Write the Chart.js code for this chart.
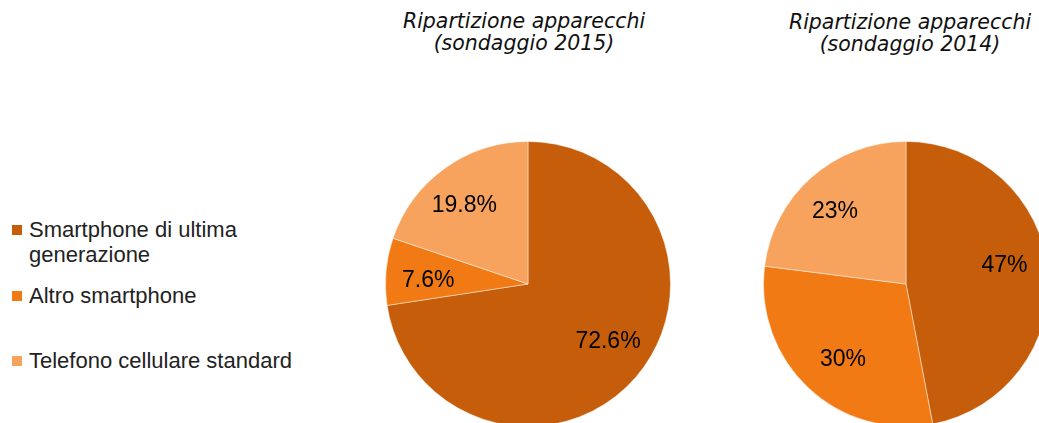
<!DOCTYPE html>
<html lang="it">
<head>
<meta charset="utf-8">
<title>Ripartizione apparecchi</title>
<script src="https://cdn.jsdelivr.net/npm/chart.js@4/dist/chart.umd.min.js"></script>
<style>
    html, body {
        margin: 0;
        padding: 0;
        width: 1039px;
        height: 423px;
        overflow: hidden;
        background: #fff;
    }
    .pie-title {
        position: absolute;
        width: 320px;
        text-align: center;
        font-family: 'DejaVu Sans', sans-serif;
        font-style: italic;
        font-size: 20.5px;
        line-height: 22px;
        color: #111;
    }
    .pie-canvas {
        position: absolute;
    }
    #legend {
        position: absolute;
        left: 0;
        top: 0;
        font-family: 'Liberation Sans', Arial, sans-serif;
        font-size: 22px;
        color: #222;
    }
    .legend-item {
        position: absolute;
        left: 29px;
        white-space: nowrap;
        line-height: 25px;
    }
    .legend-box {
        position: absolute;
        left: -17px;
        top: 8px;
        width: 10px;
        height: 10px;
    }
</style>
</head>
<body>
<div class="pie-title" style="left: 364px; top: 10px;">Ripartizione apparecchi<br>(sondaggio 2015)</div>
<div class="pie-title" style="left: 750px; top: 11px;">Ripartizione apparecchi<br>(sondaggio 2014)</div>

<div id="legend"></div>

<canvas id="pie2015" class="pie-canvas" width="286" height="286" style="left: 385px; top: 141px;"></canvas>
<canvas id="pie2014" class="pie-canvas" width="286" height="286" style="left: 763px; top: 141px;"></canvas>

<script>
    // --- Data ---
    const categories = ['Smartphone di ultima generazione', 'Altro smartphone', 'Telefono cellulare standard'];
    const legendLines = [['Smartphone di ultima', 'generazione'], ['Altro smartphone'], ['Telefono cellulare standard']];
    const values2015 = [72.6, 7.6, 19.8];
    const values2014 = [47, 30, 23];
    const sliceColors = ['#C55D0A', '#F27A14', '#F7A35D'];

    // Legend rows (top of each block, px)
    const legendTops = [217, 283, 348];

    const legendEl = document.getElementById('legend');
    legendLines.forEach((lines, i) => {
        const item = document.createElement('div');
        item.className = 'legend-item';
        item.style.top = legendTops[i] + 'px';
        item.innerHTML = `<span class="legend-box" style="background: ${sliceColors[i]};"></span>` + lines.join('<br>');
        legendEl.appendChild(item);
    });

    // Percent labels drawn inside each slice
    const sliceLabels = {
        id: 'sliceLabels',
        afterDatasetsDraw(chart) {
            const ctx = chart.ctx;
            const meta = chart.getDatasetMeta(0);
            const values = chart.data.datasets[0].data;
            ctx.save();
            ctx.font = '23px "Liberation Sans", Arial, sans-serif';
            ctx.fillStyle = '#000';
            ctx.textAlign = 'center';
            ctx.textBaseline = 'middle';
            meta.data.forEach((arc, i) => {
                const p = arc.getProps(['x', 'y', 'startAngle', 'endAngle', 'outerRadius'], true);
                // slight counter-clockwise nudge off the slice bisector
                const mid = (p.startAngle + p.endAngle) / 2 - 0.07;
                const r = p.outerRadius * 0.7;
                ctx.fillText(values[i] + '%', p.x + Math.cos(mid) * r, p.y + Math.sin(mid) * r - 2);
            });
            ctx.restore();
        }
    };

    function makePie(canvasId, values) {
        return new Chart(document.getElementById(canvasId), {
            type: 'pie',
            data: {
                labels: categories,
                datasets: [{
                    data: values,
                    backgroundColor: sliceColors,
                    borderColor: 'rgba(255,255,255,0.45)',
                    borderWidth: 1
                }]
            },
            options: {
                responsive: false,
                animation: false,
                layout: { padding: 0 },
                plugins: {
                    legend: { display: false },
                    tooltip: { enabled: false },
                    title: { display: false }
                }
            },
            plugins: [sliceLabels]
        });
    }

    makePie('pie2015', values2015);
    makePie('pie2014', values2014);
</script>
</body>
</html>
